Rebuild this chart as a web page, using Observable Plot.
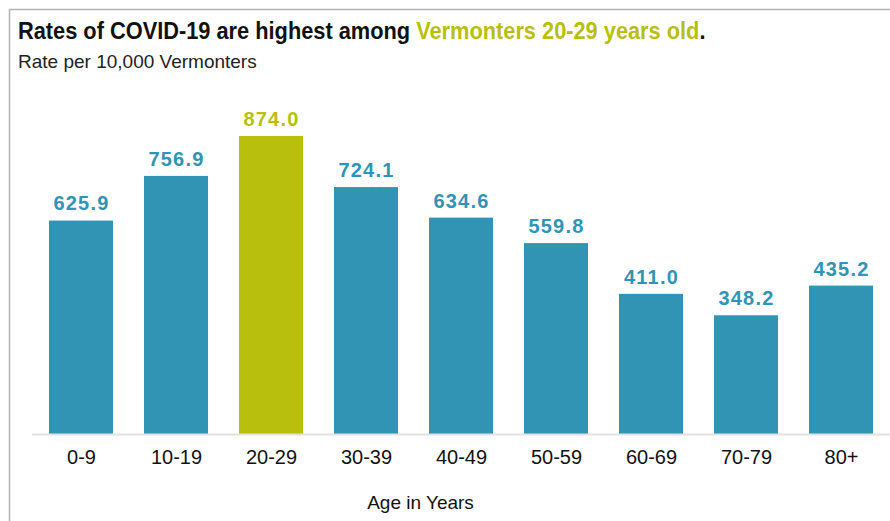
<!DOCTYPE html>
<html>
<head>
<meta charset="utf-8">
<script src="https://cdn.jsdelivr.net/npm/d3@7"></script>
<script src="https://cdn.jsdelivr.net/npm/@observablehq/plot@0.6"></script>
<style>
  html, body { margin: 0; padding: 0; background: #fff; }
  #chart { width: 890px; height: 521px; position: relative; overflow: hidden; }
</style>
</head>
<body>
<div id="chart"></div>
<script>
const ages = ["0-9", "10-19", "20-29", "30-39", "40-49", "50-59", "60-69", "70-79", "80+"];
const rates = [625.9, 756.9, 874.0, 724.1, 634.6, 559.8, 411.0, 348.2, 435.2];
const highlightAge = "20-29";
const titleParts = ["Rates of COVID-19 are highest among ", "Vermonters 20-29 years old", "."];
const subtitle = "Rate per 10,000 Vermonters";
const xLabel = "Age in Years";

const blue = "#3194b5";
const green = "#b8bf0c";
const data = ages.map((age, i) => ({age, rate: rates[i]}));
const colorOf = d => d.age === highlightAge ? green : blue;

const svg = Plot.plot({
  width: 890,
  height: 521,
  marginTop: 93,
  marginBottom: 87,
  marginLeft: 32,
  marginRight: 0,
  style: {fontFamily: "'Liberation Sans', Arial, sans-serif", background: "#fff", color: "#111"},
  x: {domain: ages, paddingInner: 0.33, paddingOuter: 0.17, label: null},
  y: {domain: [0, 1000], axis: null},
  color: {type: "identity"},
  marks: [
    Plot.barY(data, {x: "age", y: "rate", fill: colorOf}),
    Plot.ruleY([0], {stroke: "#e2e2e2", strokeWidth: 2}),
    Plot.text(data, {x: "age", y: "rate", text: d => d.rate.toFixed(1), fill: colorOf, dy: -17, fontSize: 20, fontWeight: "bold"}),
    Plot.axisX({tickSize: 0, tickPadding: 15, fontSize: 20, label: null, fill: "#111"}),
    Plot.text([xLabel], {frameAnchor: "bottom", dx: -41, dy: 74, fontSize: 19, fill: "#111"})
  ]
});

// letter-spacing for value labels
d3.select(svg).selectAll("g[aria-label='text']").filter((d, i) => i === 0).selectAll("text").style("letter-spacing", "1.2px");

document.getElementById("chart").appendChild(svg);

const s = d3.select(svg);
s.append("path").attr("d", "M9.5,521V9.5H890").attr("fill", "none").attr("stroke", "#b3b3b3").attr("stroke-width", 1.5);
const t = s.append("text").attr("text-anchor", "start")
  .style("font-family", "'Liberation Sans', Arial, sans-serif")
  .style("font-weight", "bold").style("font-size", "24px").attr("fill", "#111");
t.append("tspan").text(titleParts[0]);
t.append("tspan").attr("fill", green).text(titleParts[1]);
t.append("tspan").text(titleParts[2]);
const w = t.node().getComputedTextLength() || 800;
t.attr("transform", `translate(18,39) scale(${688 / w},1)`);
s.append("text").attr("x", 18).attr("y", 68).attr("text-anchor", "start").style("font-size", "19px").attr("fill", "#222").text(subtitle);
</script>
</body>
</html>
